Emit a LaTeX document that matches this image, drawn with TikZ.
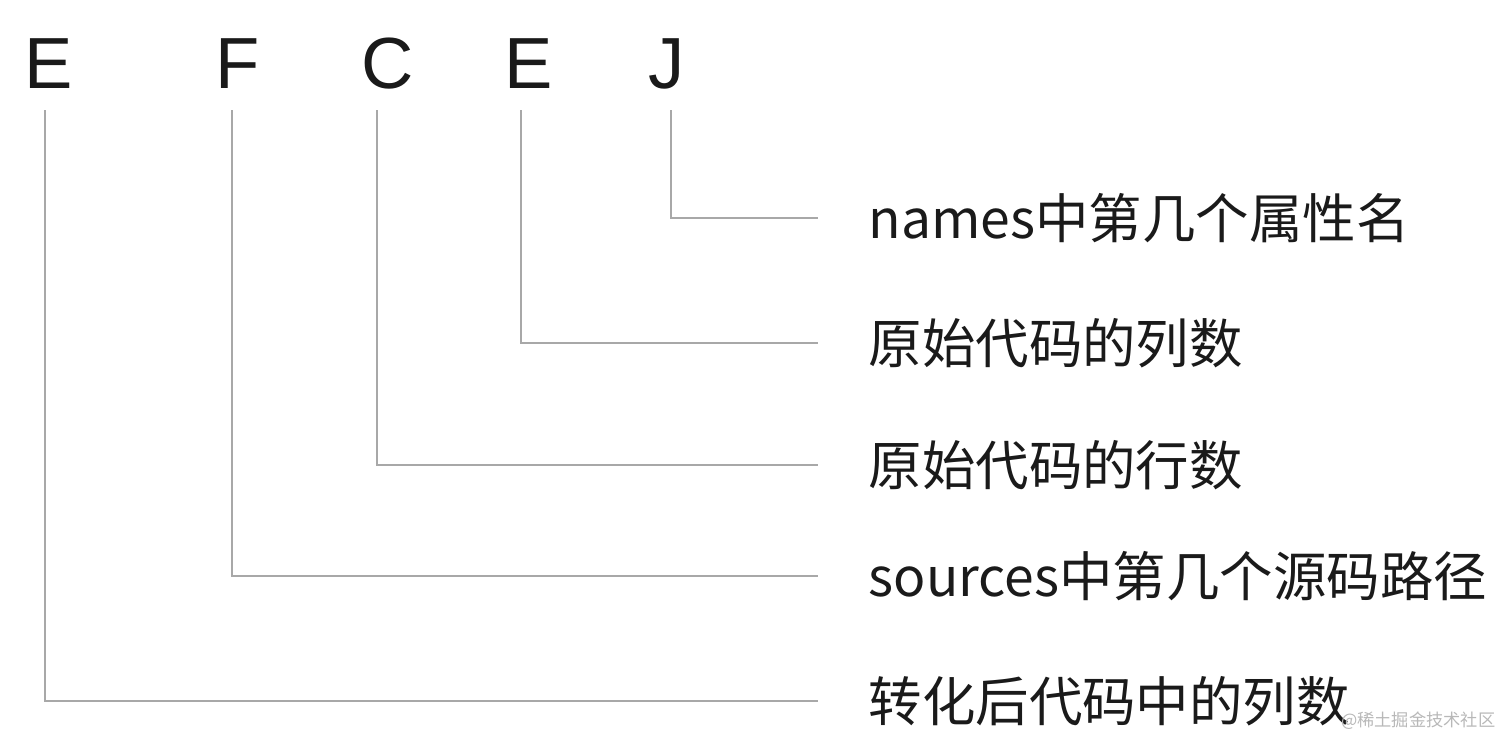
\documentclass[tikz,border=0pt]{standalone}
\usepackage{fontspec}
\setmainfont{Liberation Sans}
\newfontfamily\cjk{Noto Sans CJK SC}
\usetikzlibrary{positioning}
\definecolor{ink}{HTML}{1A1A1A}
\definecolor{rule}{HTML}{A8A8A8}

\begin{document}
\begin{tikzpicture}[x=0.01cm, y=-0.01cm,
		seg/.style={inner sep=0pt, anchor=base, text=ink, font=\fontsize{20.6}{24}\selectfont},
		lab/.style={inner sep=0pt, anchor=west, text=ink, font=\cjk\fontsize{15.2}{18}\selectfont},
		conn/.style={draw=rule, line width=0.6pt},
		wmark/.style={inner sep=0pt, anchor=east, text=black!28, font=\cjk\fontsize{4.9}{6}\selectfont}
		]
		\useasboundingbox (0,0) rectangle (1512,753);
		
		% --- Segment letters ---
		\node[seg] (segE) at (49,88) {E};
		\node[seg] (segF) at (238,88) {F};
		\node[seg] (segC) at (388,88) {C};
		\node[seg] (segEb) at (529,88) {E};
		\node[seg] (segJ) at (667,88) {J};
		
		% --- Line tops ---
		\coordinate (tE) at (45,110);
		\coordinate (tF) at (232,110);
		\coordinate (tC) at (377,110);
		\coordinate (tEb) at (521,110);
		\coordinate (tJ) at (671,110);
		
		% --- Labels ---
		\node[lab] (labJ) at (868,218) {names中第几个属性名};
		\node[lab] (labEb) at (868,343) {原始代码的列数};
		\node[lab] (labC) at (868,465) {原始代码的行数};
		\node[lab] (labF) at (868,576) {sources中第几个源码路径};
		\node[lab] (labE) at (868,701) {转化后代码中的列数};
		
		% --- Connectors ---
		\draw[conn] (tJ) |- ([xshift=-0.5cm]labJ.west);
		\draw[conn] (tEb) |- ([xshift=-0.5cm]labEb.west);
		\draw[conn] (tC) |- ([xshift=-0.5cm]labC.west);
		\draw[conn] (tF) |- ([xshift=-0.5cm]labF.west);
		\draw[conn] (tE) |- ([xshift=-0.5cm]labE.west);
		
		% --- Watermark ---
		\node[wmark] (wm) at (1496,721) {@稀土掘金技术社区};
		
	\end{tikzpicture}
\end{document}
